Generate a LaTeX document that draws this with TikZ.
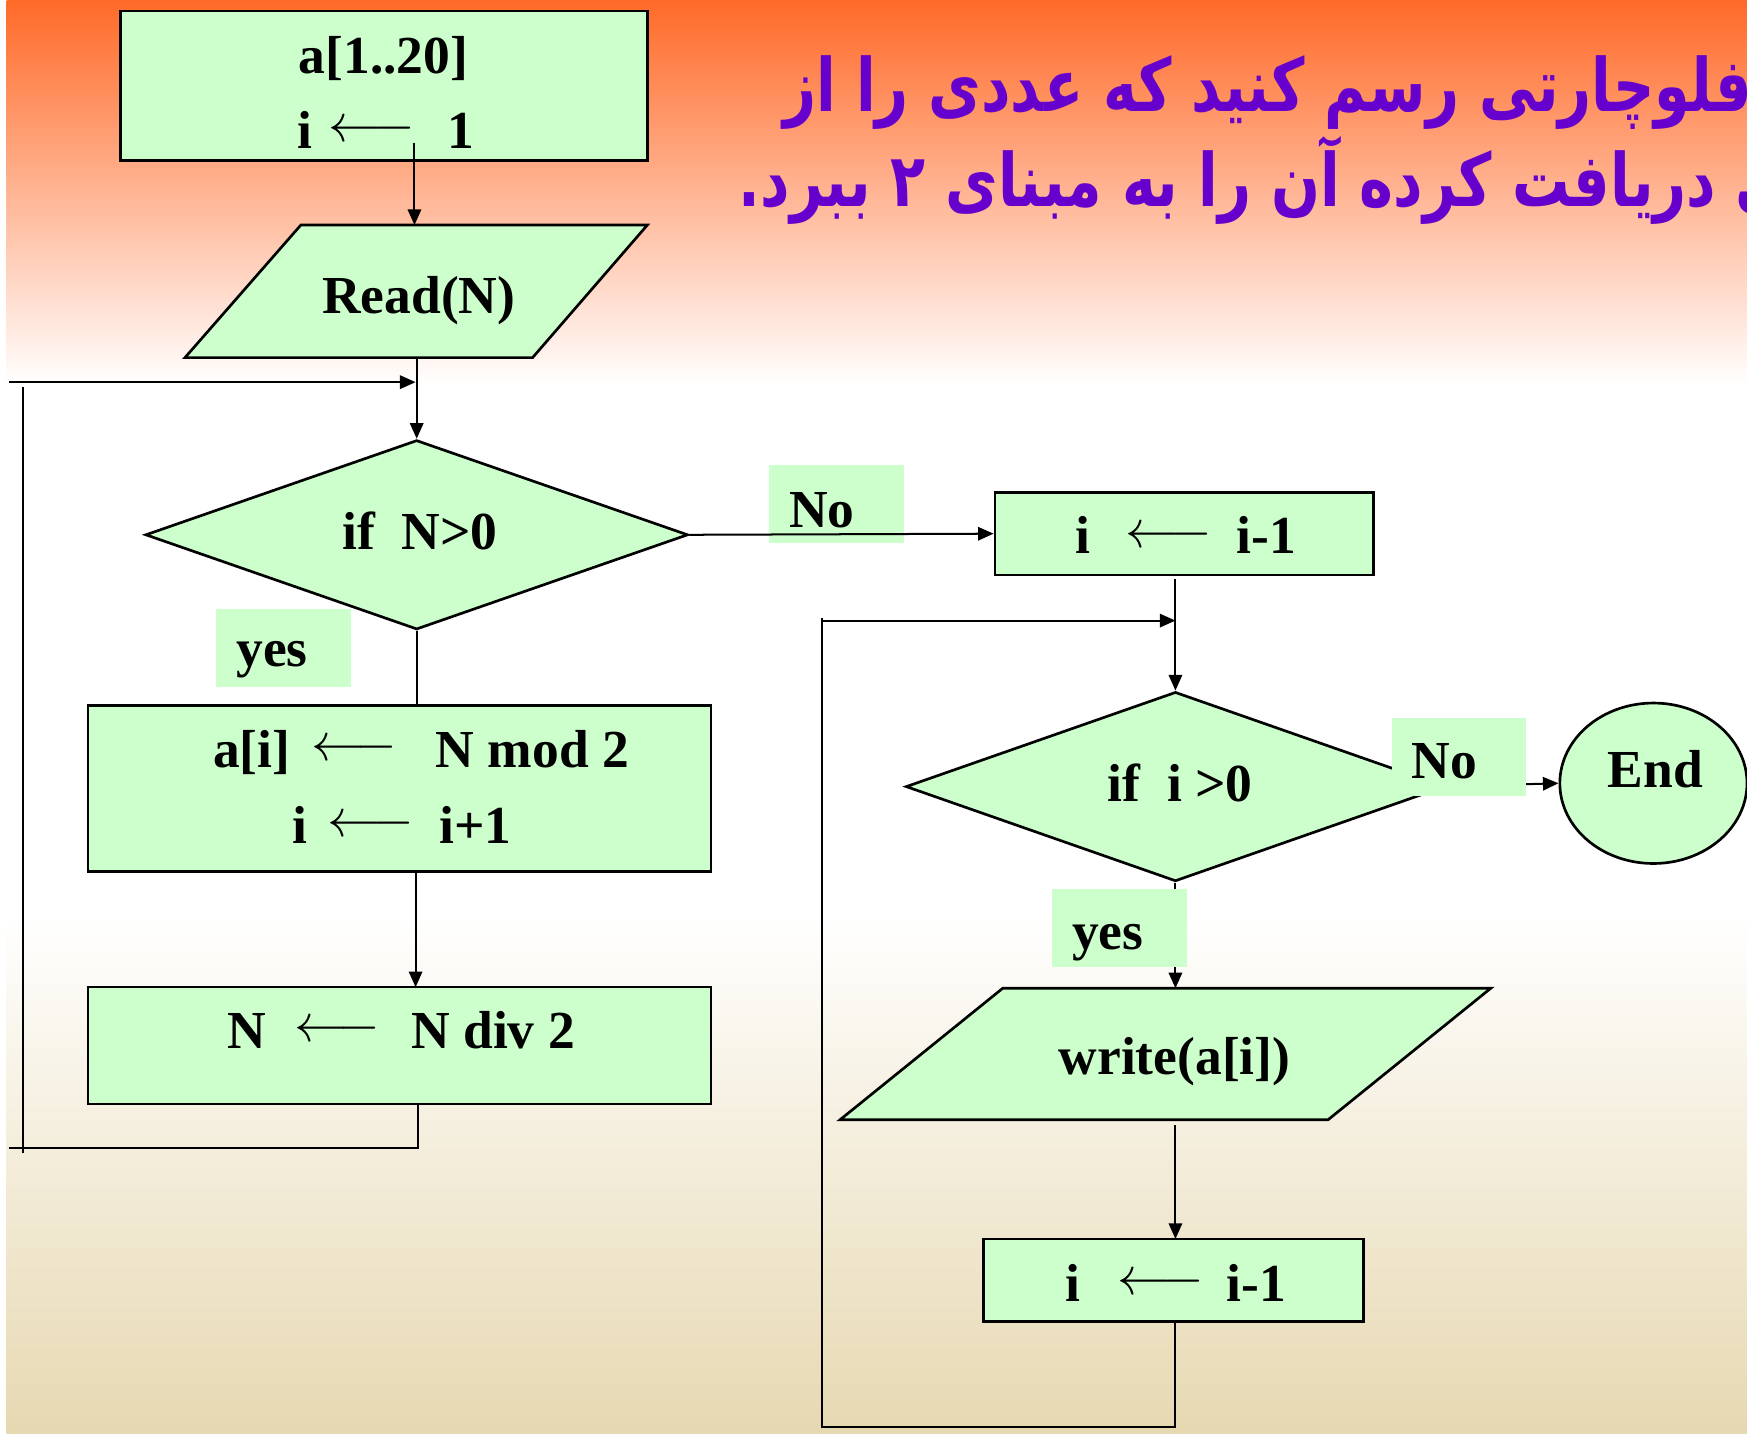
\RequirePackage{fix-cm}
\documentclass[tikz,border=0pt]{standalone}
\usepackage{fontspec}
\setmainfont{Liberation Serif}
\newfontfamily\fafont[Script=Arabic]{DejaVu Sans}
\TeXXeTstate=1
\usetikzlibrary{arrows.meta,shapes.geometric}
\definecolor{boxgreen}{HTML}{CCFFCC}
\definecolor{toporange}{HTML}{FF6A28}
\definecolor{sand}{HTML}{E6D8B1}
\definecolor{titlepurple}{HTML}{6600CC}
\newcommand{\titleline}[1]{\scalebox{1.03}[1.32]{\fafont\bfseries\beginR #1\endR}}

\begin{document}
\begin{tikzpicture}[x=1pt,y=-1pt,
  shp/.style={draw=black, line width=2.4pt, fill=boxgreen},
  box/.style={shp, rectangle, inner sep=0pt},
  lbl/.style={fill=boxgreen, inner sep=0pt, minimum width=121pt, minimum height=70pt},
  txt/.style={font=\fontsize{48pt}{48pt}\selectfont\bfseries, inner sep=0pt, anchor=base west},
  larr/.style={font=\fontsize{48pt}{48pt}\selectfont, inner sep=0pt, anchor=base west},
  ttl/.style={font=\fontsize{50pt}{50pt}\selectfont, text=titlepurple, inner sep=0pt, anchor=base west},
  con/.style={line width=1.8pt},
  arr/.style={con, -{Triangle[length=14pt,width=12pt]}},
]
% page and background
\useasboundingbox (0,0) rectangle (1568,1287);
\fill[white] (0,0) rectangle (1568,1287);
\shade[top color=toporange, bottom color=white] (6,0) rectangle (1568,345);
\shade[top color=white, bottom color=sand] (6,820) rectangle (1568,1287);

% title (runs past the right edge)
\begin{scope}
\clip (0,0) rectangle (1568,1287);
\node[ttl] (title1) at (703,100) {\titleline{فلوچارتی رسم کنید که عددی را از}};
\node[ttl] (title2) at (663,185) {\titleline{ورودی دریافت کرده آن را به مبنای ۲ ببرد.}};
\end{scope}

% ---------- left column ----------
\node[box, minimum width=473pt, minimum height=134pt] (init) at (344.5,77) {};
\node[txt] (initA) at (268,66) {a[1..20]};
\node[txt] (initB) at (267,133) {i};
\node[larr] (initArr) at (295,127) {$\longleftarrow$};
\node[txt] (initC) at (401,133) {1};

% Read(N)
\coordinate (rdTL) at (270,202); \coordinate (rdTR) at (581,202);
\coordinate (rdBR) at (478,321); \coordinate (rdBL) at (166,321);
\draw[shp] (rdTL) -- (rdTR) -- (rdBR) -- (rdBL) -- cycle;
\node[txt] (readT) at (289,281) {Read(N)};
\coordinate (rdTop) at (372,202);
\coordinate (rdBot) at (374,321);
\coordinate (initOut) at (372,128);
\draw[arr] (initOut) -- (rdTop);

% if N>0
\node[shp, diamond, inner sep=0pt, minimum width=487pt, minimum height=170pt] (testN) at (374,480) {};
\node[txt] (testNT) at (307,493) {if\ \ N>0};
\draw[arr] (rdBot) -- (testN.north);

% a[i] <- N mod 2 ; i <- i+1
\node[box, minimum width=559pt, minimum height=149pt] (store) at (358.5,707.5) {};
\node[txt] (storeA) at (191,689) {a[i]};
\node[larr] (storeArrA) at (279,683) {$\longleftarrow$};
\node[txt] (storeB) at (391,689) {N mod 2};
\node[txt] (storeC) at (262,757) {i};
\node[larr] (storeArrB) at (294,751) {$\longleftarrow$};
\node[txt] (storeD) at (394,757) {i+1};

% N <- N div 2
\node[box, minimum width=559pt, minimum height=105pt] (halve) at (358.5,938.5) {};
\node[txt] (halveA) at (204,941) {N};
\node[larr] (halveArr) at (264,935) {$\longleftarrow$};
\node[txt] (halveB) at (369,941) {N div 2};

% yes branch of the first test
\node[lbl] (yesA) at (254.5,582) {};
\node[txt] (yesAT) at (212,598) {yes};
\draw[con] (testN.south) -- (testN.south |- store.north);
\coordinate (storeOut) at (373,782);
\coordinate (halveIn) at (373,886);
\draw[arr] (storeOut) -- (halveIn);

% loop back to the test
\coordinate (halveOut) at (375,991);
\coordinate (loopA1) at (375,1030);
\coordinate (loopA2) at (8,1030);
\coordinate (loopA3) at (21,347);
\coordinate (loopA4) at (21,1035);
\coordinate (loopA5) at (8,343);
\coordinate (loopA6) at (373,343);
\draw[con] (halveOut) -- (loopA1) -- (loopA2);
\draw[con] (loopA3) -- (loopA4);
\draw[arr] (loopA5) -- (loopA6);

% ---------- right column ----------
\node[box, minimum width=340pt, minimum height=74pt] (dec1) at (1063,479) {};
\node[txt] (dec1A) at (965,497) {i};
\node[larr] (dec1Arr) at (1010,491) {$\longleftarrow$};
\node[txt] (dec1B) at (1110,497) {i-1};

% No branch of the first test
\node[lbl] (noA) at (750.5,452) {};
\node[txt] (noAT) at (708,473) {No};
\draw[arr] (testN.east) -- (dec1.west);

% if i >0
\node[shp, diamond, inner sep=0pt, minimum width=484pt, minimum height=170pt] (testI) at (1055,706) {};
\node[txt] (testIT) at (994,719) {if\ \ i >0};
\coordinate (dec1Out) at (1055,520);
\draw[arr] (dec1Out) -- (testI.north);

% End
\node[shp, ellipse, inner sep=0pt, minimum width=168pt, minimum height=144pt] (stop) at (1484,703) {};
\node[txt] (stopT) at (1443,707) {End};
\draw[arr] (testI.east) -- (stop.west);
\node[lbl] (noB) at (1309.5,679) {};
\node[txt] (noBT) at (1267,699) {No};

% write(a[i])
\coordinate (wrTL) at (900,887); \coordinate (wrTR) at (1338,887);
\coordinate (wrBR) at (1192,1005); \coordinate (wrBL) at (754,1005);
\draw[shp] (wrTL) -- (wrTR) -- (wrBR) -- (wrBL) -- cycle;
\node[txt] (writeT) at (950,964) {write(a[i])};
\coordinate (wrTop) at (1055,887);
\coordinate (wrBot) at (1055,1010);
\draw[arr] (testI.south) -- (wrTop);
\node[lbl] (yesB) at (1004.5,833) {};
\node[txt] (yesBT) at (962,852) {yes};

% i <- i-1 inside the output loop
\node[box, minimum width=341pt, minimum height=74pt] (dec2) at (1053.5,1149) {};
\node[txt] (dec2A) at (956,1168) {i};
\node[larr] (dec2Arr) at (1003,1162) {$\longleftarrow$};
\node[txt] (dec2B) at (1101,1168) {i-1};
\coordinate (dec2In) at (1055,1112);
\draw[arr] (wrBot) -- (dec2In);

% loop back to the second test
\coordinate (dec2Out) at (1055,1187);
\coordinate (loopB1) at (1055,1281);
\coordinate (loopB2) at (738,1281);
\coordinate (loopB3) at (738,555);
\coordinate (loopB4) at (738,557);
\coordinate (loopB5) at (1055,557);
\draw[con] (dec2Out) -- (loopB1) -- (loopB2) -- (loopB3);
\draw[arr] (loopB4) -- (loopB5);
\end{tikzpicture}
\end{document}
